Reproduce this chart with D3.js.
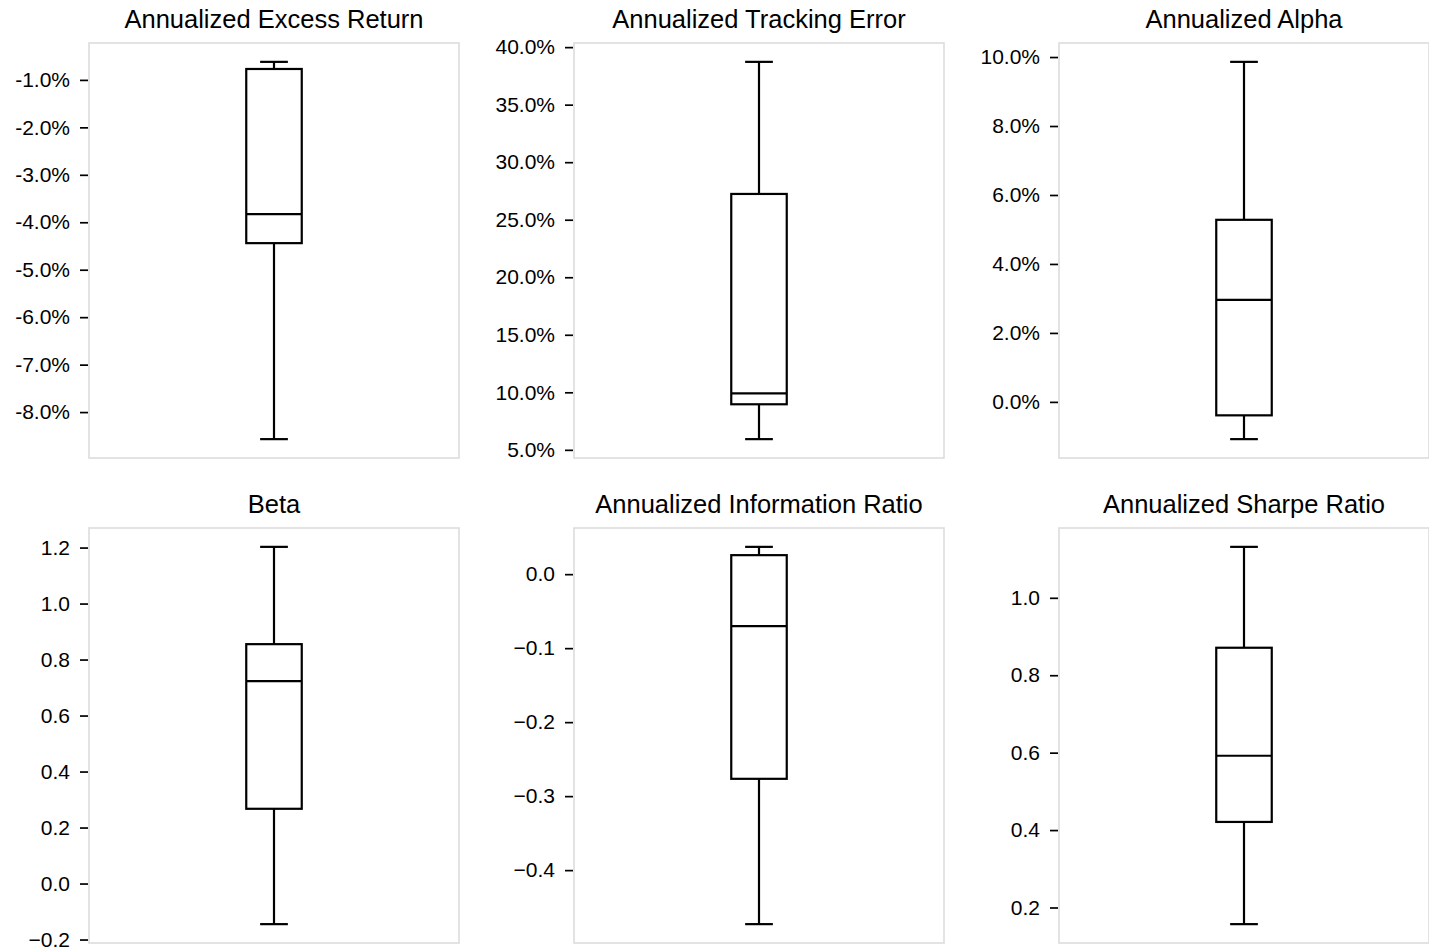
<!DOCTYPE html>
<html>
<head>
<meta charset="utf-8">
<script src="https://cdn.jsdelivr.net/npm/d3@7"></script>
<style>
  html, body { margin: 0; padding: 0; background: #fff; }
  svg { display: block; font-family: "Liberation Sans", Arial, sans-serif; }
</style>
</head>
<body>
<svg id="chart" width="1429" height="951"></svg>
<script>
// ---- Data ----
const metrics = [
  "Annualized Excess Return",
  "Annualized Tracking Error",
  "Annualized Alpha",
  "Beta",
  "Annualized Information Ratio",
  "Annualized Sharpe Ratio"
];
// percent panels are stored in percent units
const isPercent   = [true, true, true, false, false, false];
const whiskerLow  = [-8.57,  5.93, -1.08, -0.145, -0.473, 0.157];
const q1          = [-4.44,  8.96, -0.39,  0.267, -0.2766, 0.421];
const median      = [-3.83,  9.91,  2.96,  0.723, -0.0703, 0.592];
const q3          = [-0.77, 27.24,  5.28,  0.855,  0.0257, 0.871];
const whiskerHigh = [-0.62, 38.72,  9.86,  1.2025, 0.0369, 1.1316];
const ticks = [
  [-1, -2, -3, -4, -5, -6, -7, -8],
  [40, 35, 30, 25, 20, 15, 10, 5],
  [10, 8, 6, 4, 2, 0],
  [1.2, 1.0, 0.8, 0.6, 0.4, 0.2, 0.0, -0.2],
  [0.0, -0.1, -0.2, -0.3, -0.4],
  [1.0, 0.8, 0.6, 0.4, 0.2]
];

// ---- Layout ----
const svg = d3.select("#chart");
const colLeft = [89, 574, 1059];
const rowTop = [43, 528];
const W = 370, H = 415;

const pctFmt = v => v.toFixed(1) + "%";
const numFmt = d3.format(".1f");

metrics.forEach((name, i) => {
  const L = colLeft[i % 3], T = rowTop[Math.floor(i / 3)];
  const lo = whiskerLow[i], hi = whiskerHigh[i];
  const pad = (hi - lo) * 0.05;
  const y = d3.scaleLinear().domain([lo - pad, hi + pad]).range([T + H, T]);
  const x = d3.scaleLinear().domain([-1, 1]).range([L, L + W]);

  const g = svg.append("g");

  // frame
  g.append("rect")
    .attr("x", L).attr("y", T).attr("width", W).attr("height", H)
    .attr("fill", "none").attr("stroke", "#dcdcdc").attr("stroke-width", 1.6);

  // title
  g.append("text")
    .attr("x", L + W / 2).attr("y", T - 15.5)
    .attr("text-anchor", "middle")
    .attr("font-size", "25.5px").attr("fill", "#000")
    .text(name);

  // y axis
  const axis = d3.axisLeft(y)
    .tickValues(ticks[i])
    .tickSize(8)
    .tickPadding(10)
    .tickFormat(isPercent[i] ? pctFmt : numFmt);
  const ag = g.append("g").attr("transform", `translate(${L - 1},0)`).call(axis);
  ag.select(".domain").remove();
  ag.selectAll(".tick line").attr("stroke", "#000").attr("stroke-width", 1.7);
  ag.selectAll(".tick text")
    .attr("font-size", "21px").attr("fill", "#000")
    .attr("font-family", "'Liberation Sans', Arial, sans-serif");

  // box plot
  const bw = 0.15;        // half-width of box in x-domain units (box = 15% of frame)
  const cw = bw / 2;      // half-width of caps
  const sw = 2.2;
  // whiskers
  g.append("line").attr("x1", x(0)).attr("x2", x(0))
    .attr("y1", y(q3[i])).attr("y2", y(hi))
    .attr("stroke", "#000").attr("stroke-width", sw);
  g.append("line").attr("x1", x(0)).attr("x2", x(0))
    .attr("y1", y(q1[i])).attr("y2", y(lo))
    .attr("stroke", "#000").attr("stroke-width", sw);
  // caps
  [lo, hi].forEach(v => {
    g.append("line").attr("x1", x(-cw)).attr("x2", x(cw))
      .attr("y1", y(v)).attr("y2", y(v))
      .attr("stroke", "#000").attr("stroke-width", sw);
  });
  // box
  g.append("rect")
    .attr("x", x(-bw)).attr("width", x(bw) - x(-bw))
    .attr("y", y(q3[i])).attr("height", y(q1[i]) - y(q3[i]))
    .attr("fill", "none").attr("stroke", "#000").attr("stroke-width", sw);
  // median
  g.append("line").attr("x1", x(-bw)).attr("x2", x(bw))
    .attr("y1", y(median[i])).attr("y2", y(median[i]))
    .attr("stroke", "#000").attr("stroke-width", sw);
});
</script>
</body>
</html>
